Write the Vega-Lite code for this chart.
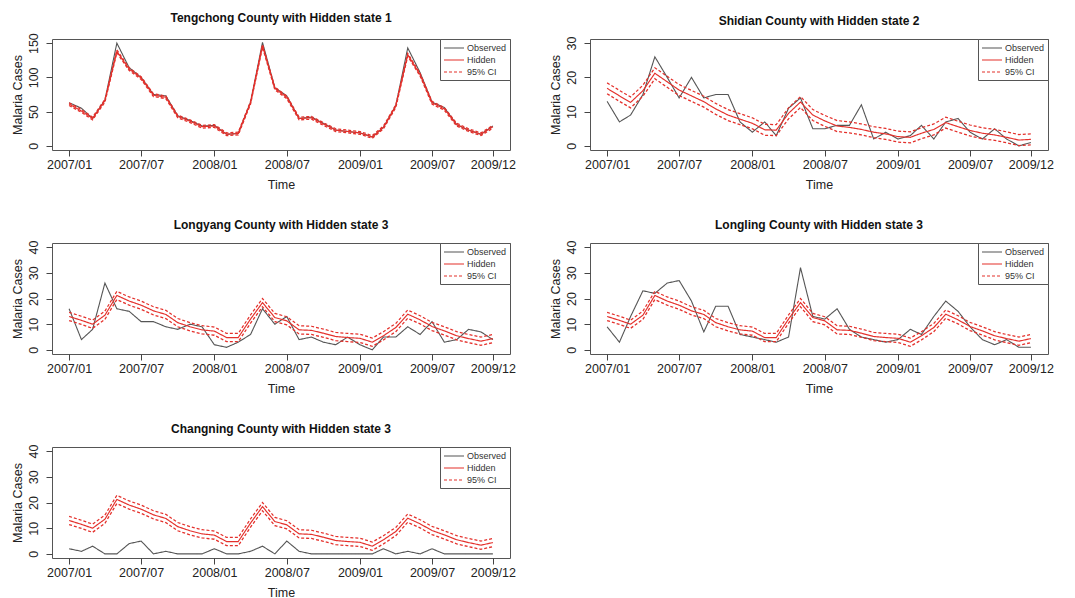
{
  "$schema": "https://vega.github.io/schema/vega-lite/v6.json",
  "padding": {"left": 10, "top": 11, "right": 0, "bottom": 0},
  "background": "white",
  "config": {
    "font": "Liberation Sans",
    "view": {"stroke": "#555555", "strokeWidth": 1},
    "title": {"font": "Liberation Sans", "fontSize": 12, "fontWeight": "bold", "color": "#111111", "offset": 8, "anchor": "middle"},
    "axis": {"labelFont": "Liberation Sans", "titleFont": "Liberation Sans", "labelFontSize": 12.5, "titleFontSize": 12.5, "titleFontWeight": "normal", "labelColor": "#222222", "titleColor": "#222222", "tickColor": "#444444", "domain": false, "grid": false, "tickSize": 6, "labelPadding": 2, "labelOverlap": false, "labelFlush": false, "labelBound": false},
    "axisX": {"labelAngle": 0, "titlePadding": 8},
    "axisY": {"labelAngle": -90, "labelAlign": "center", "labelBaseline": "bottom", "labelPadding": 6, "titlePadding": 3},
    "legend": {"orient": "top-right", "offset": 0, "fillColor": "white", "strokeColor": "#555555", "padding": 3, "labelFont": "Liberation Sans", "labelFontSize": 9, "labelColor": "#333333", "symbolType": "M-1,0L3,0", "symbolSize": 100, "symbolStrokeWidth": 1.2, "labelOffset": 12, "rowPadding": 1}
  },
  "datasets": {
    "tengchong": [
      {"date": "2007-01-01", "observed": 63, "hidden": 61, "lower": 59, "upper": 63},
      {"date": "2007-02-01", "observed": 55, "hidden": 51, "lower": 49, "upper": 53},
      {"date": "2007-03-01", "observed": 40, "hidden": 40, "lower": 38, "upper": 42},
      {"date": "2007-04-01", "observed": 67, "hidden": 66, "lower": 64, "upper": 68},
      {"date": "2007-05-01", "observed": 150, "hidden": 138, "lower": 136, "upper": 140},
      {"date": "2007-06-01", "observed": 114, "hidden": 112, "lower": 110, "upper": 114},
      {"date": "2007-07-01", "observed": 100, "hidden": 99, "lower": 97, "upper": 101},
      {"date": "2007-08-01", "observed": 75, "hidden": 74, "lower": 72, "upper": 76},
      {"date": "2007-09-01", "observed": 73, "hidden": 71, "lower": 69, "upper": 73},
      {"date": "2007-10-01", "observed": 44, "hidden": 43, "lower": 41, "upper": 45},
      {"date": "2007-11-01", "observed": 37, "hidden": 36, "lower": 34, "upper": 38},
      {"date": "2007-12-01", "observed": 29, "hidden": 28, "lower": 26, "upper": 30},
      {"date": "2008-01-01", "observed": 30, "hidden": 29, "lower": 27, "upper": 31},
      {"date": "2008-02-01", "observed": 17, "hidden": 17, "lower": 15, "upper": 19},
      {"date": "2008-03-01", "observed": 18, "hidden": 18, "lower": 16, "upper": 20},
      {"date": "2008-04-01", "observed": 64, "hidden": 63, "lower": 61, "upper": 65},
      {"date": "2008-05-01", "observed": 151, "hidden": 146, "lower": 144, "upper": 148},
      {"date": "2008-06-01", "observed": 85, "hidden": 84, "lower": 82, "upper": 86},
      {"date": "2008-07-01", "observed": 73, "hidden": 71, "lower": 69, "upper": 73},
      {"date": "2008-08-01", "observed": 40, "hidden": 40, "lower": 38, "upper": 42},
      {"date": "2008-09-01", "observed": 42, "hidden": 41, "lower": 39, "upper": 43},
      {"date": "2008-10-01", "observed": 33, "hidden": 32, "lower": 30, "upper": 34},
      {"date": "2008-11-01", "observed": 23, "hidden": 23, "lower": 21, "upper": 25},
      {"date": "2008-12-01", "observed": 21, "hidden": 21, "lower": 19, "upper": 23},
      {"date": "2009-01-01", "observed": 19, "hidden": 19, "lower": 17, "upper": 21},
      {"date": "2009-02-01", "observed": 13, "hidden": 13, "lower": 11, "upper": 15},
      {"date": "2009-03-01", "observed": 27, "hidden": 27, "lower": 25, "upper": 29},
      {"date": "2009-04-01", "observed": 59, "hidden": 58, "lower": 56, "upper": 60},
      {"date": "2009-05-01", "observed": 143, "hidden": 133, "lower": 131, "upper": 135},
      {"date": "2009-06-01", "observed": 107, "hidden": 104, "lower": 102, "upper": 106},
      {"date": "2009-07-01", "observed": 64, "hidden": 63, "lower": 61, "upper": 65},
      {"date": "2009-08-01", "observed": 56, "hidden": 54, "lower": 52, "upper": 56},
      {"date": "2009-09-01", "observed": 31, "hidden": 31, "lower": 29, "upper": 33},
      {"date": "2009-10-01", "observed": 23, "hidden": 23, "lower": 21, "upper": 25},
      {"date": "2009-11-01", "observed": 17, "hidden": 17, "lower": 15, "upper": 19},
      {"date": "2009-12-01", "observed": 29, "hidden": 28, "lower": 26, "upper": 30}
    ],
    "shidian": [
      {"date": "2007-01-01", "observed": 13, "hidden": 16.8, "lower": 15.2, "upper": 18.4},
      {"date": "2007-02-01", "observed": 7, "hidden": 14.6, "lower": 13, "upper": 16.2},
      {"date": "2007-03-01", "observed": 9, "hidden": 12.7, "lower": 11.1, "upper": 14.3},
      {"date": "2007-04-01", "observed": 15, "hidden": 16.1, "lower": 14.5, "upper": 17.7},
      {"date": "2007-05-01", "observed": 26, "hidden": 21.2, "lower": 19.6, "upper": 22.8},
      {"date": "2007-06-01", "observed": 20, "hidden": 18.7, "lower": 17.1, "upper": 20.3},
      {"date": "2007-07-01", "observed": 14, "hidden": 16.3, "lower": 14.7, "upper": 17.9},
      {"date": "2007-08-01", "observed": 20, "hidden": 14.6, "lower": 13, "upper": 16.2},
      {"date": "2007-09-01", "observed": 14, "hidden": 12.9, "lower": 11.3, "upper": 14.5},
      {"date": "2007-10-01", "observed": 15, "hidden": 10.8, "lower": 9.2, "upper": 12.4},
      {"date": "2007-11-01", "observed": 15, "hidden": 9, "lower": 7.4, "upper": 10.6},
      {"date": "2007-12-01", "observed": 7, "hidden": 7.8, "lower": 6.2, "upper": 9.4},
      {"date": "2008-01-01", "observed": 4, "hidden": 6.6, "lower": 5, "upper": 8.2},
      {"date": "2008-02-01", "observed": 7, "hidden": 4.7, "lower": 3.1, "upper": 6.3},
      {"date": "2008-03-01", "observed": 3, "hidden": 4.6, "lower": 3, "upper": 6.2},
      {"date": "2008-04-01", "observed": 11, "hidden": 9.5, "lower": 7.9, "upper": 11.1},
      {"date": "2008-05-01", "observed": 14, "hidden": 12.8, "lower": 11.2, "upper": 14.4},
      {"date": "2008-06-01", "observed": 5, "hidden": 9, "lower": 7.4, "upper": 10.6},
      {"date": "2008-07-01", "observed": 5, "hidden": 7.3, "lower": 5.7, "upper": 8.9},
      {"date": "2008-08-01", "observed": 6, "hidden": 5.8, "lower": 4.2, "upper": 7.4},
      {"date": "2008-09-01", "observed": 6, "hidden": 5.4, "lower": 3.8, "upper": 7},
      {"date": "2008-10-01", "observed": 12, "hidden": 4.8, "lower": 3.2, "upper": 6.4},
      {"date": "2008-11-01", "observed": 2, "hidden": 4, "lower": 2.4, "upper": 5.6},
      {"date": "2008-12-01", "observed": 4, "hidden": 3.5, "lower": 1.9, "upper": 5.1},
      {"date": "2009-01-01", "observed": 2, "hidden": 2.7, "lower": 1.1, "upper": 4.3},
      {"date": "2009-02-01", "observed": 3, "hidden": 2.5, "lower": 0.9, "upper": 4.1},
      {"date": "2009-03-01", "observed": 6, "hidden": 3.7, "lower": 2.1, "upper": 5.3},
      {"date": "2009-04-01", "observed": 2, "hidden": 4.8, "lower": 3.2, "upper": 6.4},
      {"date": "2009-05-01", "observed": 7, "hidden": 6.8, "lower": 5.2, "upper": 8.4},
      {"date": "2009-06-01", "observed": 8, "hidden": 5.6, "lower": 4, "upper": 7.2},
      {"date": "2009-07-01", "observed": 4, "hidden": 4.5, "lower": 2.9, "upper": 6.1},
      {"date": "2009-08-01", "observed": 2, "hidden": 3.7, "lower": 2.1, "upper": 5.3},
      {"date": "2009-09-01", "observed": 5, "hidden": 3.2, "lower": 1.6, "upper": 4.8},
      {"date": "2009-10-01", "observed": 2, "hidden": 2.5, "lower": 0.9, "upper": 4.1},
      {"date": "2009-11-01", "observed": 0, "hidden": 1.7, "lower": 0.1, "upper": 3.3},
      {"date": "2009-12-01", "observed": 1, "hidden": 1.9, "lower": 0.3, "upper": 3.5}
    ],
    "longyang": [
      {"date": "2007-01-01", "observed": 16, "hidden": 13, "lower": 11.4, "upper": 14.6},
      {"date": "2007-02-01", "observed": 4, "hidden": 11.5, "lower": 9.9, "upper": 13.1},
      {"date": "2007-03-01", "observed": 8, "hidden": 10, "lower": 8.4, "upper": 11.6},
      {"date": "2007-04-01", "observed": 26, "hidden": 13.5, "lower": 11.9, "upper": 15.1},
      {"date": "2007-05-01", "observed": 16, "hidden": 21.2, "lower": 19.6, "upper": 22.8},
      {"date": "2007-06-01", "observed": 15, "hidden": 19, "lower": 17.4, "upper": 20.6},
      {"date": "2007-07-01", "observed": 11, "hidden": 17.4, "lower": 15.8, "upper": 19},
      {"date": "2007-08-01", "observed": 11, "hidden": 15.2, "lower": 13.6, "upper": 16.8},
      {"date": "2007-09-01", "observed": 9, "hidden": 13.8, "lower": 12.2, "upper": 15.4},
      {"date": "2007-10-01", "observed": 8, "hidden": 10.6, "lower": 9, "upper": 12.2},
      {"date": "2007-11-01", "observed": 10, "hidden": 9, "lower": 7.4, "upper": 10.6},
      {"date": "2007-12-01", "observed": 9, "hidden": 7.8, "lower": 6.2, "upper": 9.4},
      {"date": "2008-01-01", "observed": 2, "hidden": 7.3, "lower": 5.7, "upper": 8.9},
      {"date": "2008-02-01", "observed": 1, "hidden": 4.8, "lower": 3.2, "upper": 6.4},
      {"date": "2008-03-01", "observed": 3, "hidden": 4.8, "lower": 3.2, "upper": 6.4},
      {"date": "2008-04-01", "observed": 6, "hidden": 12, "lower": 10.4, "upper": 13.6},
      {"date": "2008-05-01", "observed": 16, "hidden": 18.4, "lower": 16.8, "upper": 20},
      {"date": "2008-06-01", "observed": 10, "hidden": 12.6, "lower": 11, "upper": 14.2},
      {"date": "2008-07-01", "observed": 13, "hidden": 11.3, "lower": 9.7, "upper": 12.9},
      {"date": "2008-08-01", "observed": 4, "hidden": 7.8, "lower": 6.2, "upper": 9.4},
      {"date": "2008-09-01", "observed": 5, "hidden": 7.6, "lower": 6, "upper": 9.2},
      {"date": "2008-10-01", "observed": 3, "hidden": 6.5, "lower": 4.9, "upper": 8.1},
      {"date": "2008-11-01", "observed": 2, "hidden": 5.2, "lower": 3.6, "upper": 6.8},
      {"date": "2008-12-01", "observed": 5, "hidden": 4.8, "lower": 3.2, "upper": 6.4},
      {"date": "2009-01-01", "observed": 2, "hidden": 4.5, "lower": 2.9, "upper": 6.1},
      {"date": "2009-02-01", "observed": 0, "hidden": 3, "lower": 1.4, "upper": 4.6},
      {"date": "2009-03-01", "observed": 5, "hidden": 5.5, "lower": 3.9, "upper": 7.1},
      {"date": "2009-04-01", "observed": 5, "hidden": 8.7, "lower": 7.1, "upper": 10.3},
      {"date": "2009-05-01", "observed": 9, "hidden": 13.9, "lower": 12.3, "upper": 15.5},
      {"date": "2009-06-01", "observed": 6, "hidden": 11.7, "lower": 10.1, "upper": 13.3},
      {"date": "2009-07-01", "observed": 11, "hidden": 9.1, "lower": 7.5, "upper": 10.7},
      {"date": "2009-08-01", "observed": 3, "hidden": 7.4, "lower": 5.8, "upper": 9},
      {"date": "2009-09-01", "observed": 4, "hidden": 5.5, "lower": 3.9, "upper": 7.1},
      {"date": "2009-10-01", "observed": 8, "hidden": 4.4, "lower": 2.8, "upper": 6},
      {"date": "2009-11-01", "observed": 7, "hidden": 3.4, "lower": 1.8, "upper": 5},
      {"date": "2009-12-01", "observed": 4, "hidden": 4.4, "lower": 2.8, "upper": 6}
    ],
    "longling": [
      {"date": "2007-01-01", "observed": 9, "hidden": 13, "lower": 11.4, "upper": 14.6},
      {"date": "2007-02-01", "observed": 3, "hidden": 11.5, "lower": 9.9, "upper": 13.1},
      {"date": "2007-03-01", "observed": 13, "hidden": 10, "lower": 8.4, "upper": 11.6},
      {"date": "2007-04-01", "observed": 23, "hidden": 13.5, "lower": 11.9, "upper": 15.1},
      {"date": "2007-05-01", "observed": 22, "hidden": 21.2, "lower": 19.6, "upper": 22.8},
      {"date": "2007-06-01", "observed": 26, "hidden": 19, "lower": 17.4, "upper": 20.6},
      {"date": "2007-07-01", "observed": 27, "hidden": 17.4, "lower": 15.8, "upper": 19},
      {"date": "2007-08-01", "observed": 19, "hidden": 15.2, "lower": 13.6, "upper": 16.8},
      {"date": "2007-09-01", "observed": 7, "hidden": 13.8, "lower": 12.2, "upper": 15.4},
      {"date": "2007-10-01", "observed": 17, "hidden": 10.6, "lower": 9, "upper": 12.2},
      {"date": "2007-11-01", "observed": 17, "hidden": 9, "lower": 7.4, "upper": 10.6},
      {"date": "2007-12-01", "observed": 6, "hidden": 7.8, "lower": 6.2, "upper": 9.4},
      {"date": "2008-01-01", "observed": 5, "hidden": 7.3, "lower": 5.7, "upper": 8.9},
      {"date": "2008-02-01", "observed": 4, "hidden": 4.8, "lower": 3.2, "upper": 6.4},
      {"date": "2008-03-01", "observed": 3, "hidden": 4.8, "lower": 3.2, "upper": 6.4},
      {"date": "2008-04-01", "observed": 5, "hidden": 12, "lower": 10.4, "upper": 13.6},
      {"date": "2008-05-01", "observed": 32, "hidden": 18.4, "lower": 16.8, "upper": 20},
      {"date": "2008-06-01", "observed": 13, "hidden": 12.6, "lower": 11, "upper": 14.2},
      {"date": "2008-07-01", "observed": 12, "hidden": 11.3, "lower": 9.7, "upper": 12.9},
      {"date": "2008-08-01", "observed": 16, "hidden": 7.8, "lower": 6.2, "upper": 9.4},
      {"date": "2008-09-01", "observed": 8, "hidden": 7.6, "lower": 6, "upper": 9.2},
      {"date": "2008-10-01", "observed": 5, "hidden": 6.5, "lower": 4.9, "upper": 8.1},
      {"date": "2008-11-01", "observed": 4, "hidden": 5.2, "lower": 3.6, "upper": 6.8},
      {"date": "2008-12-01", "observed": 3, "hidden": 4.8, "lower": 3.2, "upper": 6.4},
      {"date": "2009-01-01", "observed": 4, "hidden": 4.5, "lower": 2.9, "upper": 6.1},
      {"date": "2009-02-01", "observed": 8, "hidden": 3, "lower": 1.4, "upper": 4.6},
      {"date": "2009-03-01", "observed": 6, "hidden": 5.5, "lower": 3.9, "upper": 7.1},
      {"date": "2009-04-01", "observed": 13, "hidden": 8.7, "lower": 7.1, "upper": 10.3},
      {"date": "2009-05-01", "observed": 19, "hidden": 13.9, "lower": 12.3, "upper": 15.5},
      {"date": "2009-06-01", "observed": 15, "hidden": 11.7, "lower": 10.1, "upper": 13.3},
      {"date": "2009-07-01", "observed": 9, "hidden": 9.1, "lower": 7.5, "upper": 10.7},
      {"date": "2009-08-01", "observed": 4, "hidden": 7.4, "lower": 5.8, "upper": 9},
      {"date": "2009-09-01", "observed": 2, "hidden": 5.5, "lower": 3.9, "upper": 7.1},
      {"date": "2009-10-01", "observed": 4, "hidden": 4.4, "lower": 2.8, "upper": 6},
      {"date": "2009-11-01", "observed": 1, "hidden": 3.4, "lower": 1.8, "upper": 5},
      {"date": "2009-12-01", "observed": 1, "hidden": 4.4, "lower": 2.8, "upper": 6}
    ],
    "changning": [
      {"date": "2007-01-01", "observed": 2, "hidden": 13, "lower": 11.4, "upper": 14.6},
      {"date": "2007-02-01", "observed": 1, "hidden": 11.5, "lower": 9.9, "upper": 13.1},
      {"date": "2007-03-01", "observed": 3, "hidden": 10, "lower": 8.4, "upper": 11.6},
      {"date": "2007-04-01", "observed": 0, "hidden": 13.5, "lower": 11.9, "upper": 15.1},
      {"date": "2007-05-01", "observed": 0, "hidden": 21.2, "lower": 19.6, "upper": 22.8},
      {"date": "2007-06-01", "observed": 4, "hidden": 19, "lower": 17.4, "upper": 20.6},
      {"date": "2007-07-01", "observed": 5, "hidden": 17.4, "lower": 15.8, "upper": 19},
      {"date": "2007-08-01", "observed": 0, "hidden": 15.2, "lower": 13.6, "upper": 16.8},
      {"date": "2007-09-01", "observed": 1, "hidden": 13.8, "lower": 12.2, "upper": 15.4},
      {"date": "2007-10-01", "observed": 0, "hidden": 10.6, "lower": 9, "upper": 12.2},
      {"date": "2007-11-01", "observed": 0, "hidden": 9, "lower": 7.4, "upper": 10.6},
      {"date": "2007-12-01", "observed": 0, "hidden": 7.8, "lower": 6.2, "upper": 9.4},
      {"date": "2008-01-01", "observed": 2, "hidden": 7.3, "lower": 5.7, "upper": 8.9},
      {"date": "2008-02-01", "observed": 0, "hidden": 4.8, "lower": 3.2, "upper": 6.4},
      {"date": "2008-03-01", "observed": 0, "hidden": 4.8, "lower": 3.2, "upper": 6.4},
      {"date": "2008-04-01", "observed": 1, "hidden": 12, "lower": 10.4, "upper": 13.6},
      {"date": "2008-05-01", "observed": 3, "hidden": 18.4, "lower": 16.8, "upper": 20},
      {"date": "2008-06-01", "observed": 0, "hidden": 12.6, "lower": 11, "upper": 14.2},
      {"date": "2008-07-01", "observed": 5, "hidden": 11.3, "lower": 9.7, "upper": 12.9},
      {"date": "2008-08-01", "observed": 1, "hidden": 7.8, "lower": 6.2, "upper": 9.4},
      {"date": "2008-09-01", "observed": 0, "hidden": 7.6, "lower": 6, "upper": 9.2},
      {"date": "2008-10-01", "observed": 0, "hidden": 6.5, "lower": 4.9, "upper": 8.1},
      {"date": "2008-11-01", "observed": 0, "hidden": 5.2, "lower": 3.6, "upper": 6.8},
      {"date": "2008-12-01", "observed": 0, "hidden": 4.8, "lower": 3.2, "upper": 6.4},
      {"date": "2009-01-01", "observed": 0, "hidden": 4.5, "lower": 2.9, "upper": 6.1},
      {"date": "2009-02-01", "observed": 0, "hidden": 3, "lower": 1.4, "upper": 4.6},
      {"date": "2009-03-01", "observed": 2, "hidden": 5.5, "lower": 3.9, "upper": 7.1},
      {"date": "2009-04-01", "observed": 0, "hidden": 8.7, "lower": 7.1, "upper": 10.3},
      {"date": "2009-05-01", "observed": 1, "hidden": 13.9, "lower": 12.3, "upper": 15.5},
      {"date": "2009-06-01", "observed": 0, "hidden": 11.7, "lower": 10.1, "upper": 13.3},
      {"date": "2009-07-01", "observed": 2, "hidden": 9.1, "lower": 7.5, "upper": 10.7},
      {"date": "2009-08-01", "observed": 0, "hidden": 7.4, "lower": 5.8, "upper": 9},
      {"date": "2009-09-01", "observed": 0, "hidden": 5.5, "lower": 3.9, "upper": 7.1},
      {"date": "2009-10-01", "observed": 0, "hidden": 4.4, "lower": 2.8, "upper": 6},
      {"date": "2009-11-01", "observed": 0, "hidden": 3.4, "lower": 1.8, "upper": 5},
      {"date": "2009-12-01", "observed": 0, "hidden": 4.4, "lower": 2.8, "upper": 6}
    ]
  },
  "columns": 2,
  "bounds": "flush",
  "spacing": {"row": 93, "column": 80},
  "resolve": {"scale": {"x": "independent", "y": "independent", "color": "independent", "strokeDash": "independent", "strokeWidth": "independent"}, "legend": {"color": "independent", "strokeDash": "independent"}},
  "concat": [
    {
      "width": 458, "height": 111,
      "title": "Tengchong County with Hidden state 1",
      "data": {"name": "tengchong"},
      "transform": [{"fold": ["observed", "hidden", "upper", "lower"], "as": ["series", "value"]}],
      "mark": {"type": "line"},
      "encoding": {
        "x": {"field": "date", "type": "temporal", "title": "Time",
          "scale": {"type": "utc", "domain": [{"year": 2006, "month": 11, "date": 19, "utc": true}, {"year": 2010, "month": 1, "date": 13, "utc": true}]},
          "axis": {"format": "%Y/%m", "labelOverlap": false, "values": [{"year": 2007, "month": 1, "date": 1, "utc": true}, {"year": 2007, "month": 7, "date": 1, "utc": true}, {"year": 2008, "month": 1, "date": 1, "utc": true}, {"year": 2008, "month": 7, "date": 1, "utc": true}, {"year": 2009, "month": 1, "date": 1, "utc": true}, {"year": 2009, "month": 7, "date": 1, "utc": true}, {"year": 2009, "month": 12, "date": 1, "utc": true}]}},
        "y": {"field": "value", "type": "quantitative", "title": "Malaria Cases", "scale": {"domain": [-6, 156], "nice": false, "zero": false}, "axis": {"values": [0, 50, 100, 150], "labelOverlap": false}},
        "color": {"field": "series", "type": "nominal", "scale": {"domain": ["observed", "hidden", "upper", "lower"], "range": ["#555555", "#e4302b", "#e4302b", "#e4302b"]}, "legend": {"title": null, "values": ["observed", "hidden", "upper"], "labelExpr": "datum.value == 'observed' ? 'Observed' : datum.value == 'hidden' ? 'Hidden' : '95% CI'"}},
        "strokeDash": {"field": "series", "type": "nominal", "scale": {"domain": ["observed", "hidden", "upper", "lower"], "range": [[1, 0], [1, 0], [3, 2], [3, 2]]}, "legend": {"title": null, "values": ["observed", "hidden", "upper"], "labelExpr": "datum.value == 'observed' ? 'Observed' : datum.value == 'hidden' ? 'Hidden' : '95% CI'"}},
        "strokeWidth": {"field": "series", "type": "nominal", "scale": {"domain": ["observed", "hidden", "upper", "lower"], "range": [1.1, 1.3, 0.9, 0.9]}, "legend": null}
      }
    },
    {
      "width": 458, "height": 111,
      "title": "Shidian County with Hidden state 2",
      "data": {"name": "shidian"},
      "transform": [{"fold": ["observed", "hidden", "upper", "lower"], "as": ["series", "value"]}],
      "mark": {"type": "line"},
      "encoding": {
        "x": {"field": "date", "type": "temporal", "title": "Time",
          "scale": {"type": "utc", "domain": [{"year": 2006, "month": 11, "date": 19, "utc": true}, {"year": 2010, "month": 1, "date": 13, "utc": true}]},
          "axis": {"format": "%Y/%m", "labelOverlap": false, "values": [{"year": 2007, "month": 1, "date": 1, "utc": true}, {"year": 2007, "month": 7, "date": 1, "utc": true}, {"year": 2008, "month": 1, "date": 1, "utc": true}, {"year": 2008, "month": 7, "date": 1, "utc": true}, {"year": 2009, "month": 1, "date": 1, "utc": true}, {"year": 2009, "month": 7, "date": 1, "utc": true}, {"year": 2009, "month": 12, "date": 1, "utc": true}]}},
        "y": {"field": "value", "type": "quantitative", "title": "Malaria Cases", "scale": {"domain": [-1.2, 31.2], "nice": false, "zero": false}, "axis": {"values": [0, 10, 20, 30], "labelOverlap": false}},
        "color": {"field": "series", "type": "nominal", "scale": {"domain": ["observed", "hidden", "upper", "lower"], "range": ["#555555", "#e4302b", "#e4302b", "#e4302b"]}, "legend": {"title": null, "values": ["observed", "hidden", "upper"], "labelExpr": "datum.value == 'observed' ? 'Observed' : datum.value == 'hidden' ? 'Hidden' : '95% CI'"}},
        "strokeDash": {"field": "series", "type": "nominal", "scale": {"domain": ["observed", "hidden", "upper", "lower"], "range": [[1, 0], [1, 0], [3, 2], [3, 2]]}, "legend": {"title": null, "values": ["observed", "hidden", "upper"], "labelExpr": "datum.value == 'observed' ? 'Observed' : datum.value == 'hidden' ? 'Hidden' : '95% CI'"}},
        "strokeWidth": {"field": "series", "type": "nominal", "scale": {"domain": ["observed", "hidden", "upper", "lower"], "range": [1.1, 1.3, 0.9, 0.9]}, "legend": null}
      }
    },
    {
      "width": 458, "height": 111,
      "title": "Longyang County with Hidden state 3",
      "data": {"name": "longyang"},
      "transform": [{"fold": ["observed", "hidden", "upper", "lower"], "as": ["series", "value"]}],
      "mark": {"type": "line"},
      "encoding": {
        "x": {"field": "date", "type": "temporal", "title": "Time",
          "scale": {"type": "utc", "domain": [{"year": 2006, "month": 11, "date": 19, "utc": true}, {"year": 2010, "month": 1, "date": 13, "utc": true}]},
          "axis": {"format": "%Y/%m", "labelOverlap": false, "values": [{"year": 2007, "month": 1, "date": 1, "utc": true}, {"year": 2007, "month": 7, "date": 1, "utc": true}, {"year": 2008, "month": 1, "date": 1, "utc": true}, {"year": 2008, "month": 7, "date": 1, "utc": true}, {"year": 2009, "month": 1, "date": 1, "utc": true}, {"year": 2009, "month": 7, "date": 1, "utc": true}, {"year": 2009, "month": 12, "date": 1, "utc": true}]}},
        "y": {"field": "value", "type": "quantitative", "title": "Malaria Cases", "scale": {"domain": [-1.6, 41.6], "nice": false, "zero": false}, "axis": {"values": [0, 10, 20, 30, 40], "labelOverlap": false}},
        "color": {"field": "series", "type": "nominal", "scale": {"domain": ["observed", "hidden", "upper", "lower"], "range": ["#555555", "#e4302b", "#e4302b", "#e4302b"]}, "legend": {"title": null, "values": ["observed", "hidden", "upper"], "labelExpr": "datum.value == 'observed' ? 'Observed' : datum.value == 'hidden' ? 'Hidden' : '95% CI'"}},
        "strokeDash": {"field": "series", "type": "nominal", "scale": {"domain": ["observed", "hidden", "upper", "lower"], "range": [[1, 0], [1, 0], [3, 2], [3, 2]]}, "legend": {"title": null, "values": ["observed", "hidden", "upper"], "labelExpr": "datum.value == 'observed' ? 'Observed' : datum.value == 'hidden' ? 'Hidden' : '95% CI'"}},
        "strokeWidth": {"field": "series", "type": "nominal", "scale": {"domain": ["observed", "hidden", "upper", "lower"], "range": [1.1, 1.3, 0.9, 0.9]}, "legend": null}
      }
    },
    {
      "width": 458, "height": 111,
      "title": "Longling County with Hidden state 3",
      "data": {"name": "longling"},
      "transform": [{"fold": ["observed", "hidden", "upper", "lower"], "as": ["series", "value"]}],
      "mark": {"type": "line"},
      "encoding": {
        "x": {"field": "date", "type": "temporal", "title": "Time",
          "scale": {"type": "utc", "domain": [{"year": 2006, "month": 11, "date": 19, "utc": true}, {"year": 2010, "month": 1, "date": 13, "utc": true}]},
          "axis": {"format": "%Y/%m", "labelOverlap": false, "values": [{"year": 2007, "month": 1, "date": 1, "utc": true}, {"year": 2007, "month": 7, "date": 1, "utc": true}, {"year": 2008, "month": 1, "date": 1, "utc": true}, {"year": 2008, "month": 7, "date": 1, "utc": true}, {"year": 2009, "month": 1, "date": 1, "utc": true}, {"year": 2009, "month": 7, "date": 1, "utc": true}, {"year": 2009, "month": 12, "date": 1, "utc": true}]}},
        "y": {"field": "value", "type": "quantitative", "title": "Malaria Cases", "scale": {"domain": [-1.6, 41.6], "nice": false, "zero": false}, "axis": {"values": [0, 10, 20, 30, 40], "labelOverlap": false}},
        "color": {"field": "series", "type": "nominal", "scale": {"domain": ["observed", "hidden", "upper", "lower"], "range": ["#555555", "#e4302b", "#e4302b", "#e4302b"]}, "legend": {"title": null, "values": ["observed", "hidden", "upper"], "labelExpr": "datum.value == 'observed' ? 'Observed' : datum.value == 'hidden' ? 'Hidden' : '95% CI'"}},
        "strokeDash": {"field": "series", "type": "nominal", "scale": {"domain": ["observed", "hidden", "upper", "lower"], "range": [[1, 0], [1, 0], [3, 2], [3, 2]]}, "legend": {"title": null, "values": ["observed", "hidden", "upper"], "labelExpr": "datum.value == 'observed' ? 'Observed' : datum.value == 'hidden' ? 'Hidden' : '95% CI'"}},
        "strokeWidth": {"field": "series", "type": "nominal", "scale": {"domain": ["observed", "hidden", "upper", "lower"], "range": [1.1, 1.3, 0.9, 0.9]}, "legend": null}
      }
    },
    {
      "width": 458, "height": 111,
      "title": "Changning County with Hidden state 3",
      "data": {"name": "changning"},
      "transform": [{"fold": ["observed", "hidden", "upper", "lower"], "as": ["series", "value"]}],
      "mark": {"type": "line"},
      "encoding": {
        "x": {"field": "date", "type": "temporal", "title": "Time",
          "scale": {"type": "utc", "domain": [{"year": 2006, "month": 11, "date": 19, "utc": true}, {"year": 2010, "month": 1, "date": 13, "utc": true}]},
          "axis": {"format": "%Y/%m", "labelOverlap": false, "values": [{"year": 2007, "month": 1, "date": 1, "utc": true}, {"year": 2007, "month": 7, "date": 1, "utc": true}, {"year": 2008, "month": 1, "date": 1, "utc": true}, {"year": 2008, "month": 7, "date": 1, "utc": true}, {"year": 2009, "month": 1, "date": 1, "utc": true}, {"year": 2009, "month": 7, "date": 1, "utc": true}, {"year": 2009, "month": 12, "date": 1, "utc": true}]}},
        "y": {"field": "value", "type": "quantitative", "title": "Malaria Cases", "scale": {"domain": [-1.6, 41.6], "nice": false, "zero": false}, "axis": {"values": [0, 10, 20, 30, 40], "labelOverlap": false}},
        "color": {"field": "series", "type": "nominal", "scale": {"domain": ["observed", "hidden", "upper", "lower"], "range": ["#555555", "#e4302b", "#e4302b", "#e4302b"]}, "legend": {"title": null, "values": ["observed", "hidden", "upper"], "labelExpr": "datum.value == 'observed' ? 'Observed' : datum.value == 'hidden' ? 'Hidden' : '95% CI'"}},
        "strokeDash": {"field": "series", "type": "nominal", "scale": {"domain": ["observed", "hidden", "upper", "lower"], "range": [[1, 0], [1, 0], [3, 2], [3, 2]]}, "legend": {"title": null, "values": ["observed", "hidden", "upper"], "labelExpr": "datum.value == 'observed' ? 'Observed' : datum.value == 'hidden' ? 'Hidden' : '95% CI'"}},
        "strokeWidth": {"field": "series", "type": "nominal", "scale": {"domain": ["observed", "hidden", "upper", "lower"], "range": [1.1, 1.3, 0.9, 0.9]}, "legend": null}
      }
    }
  ]
}
